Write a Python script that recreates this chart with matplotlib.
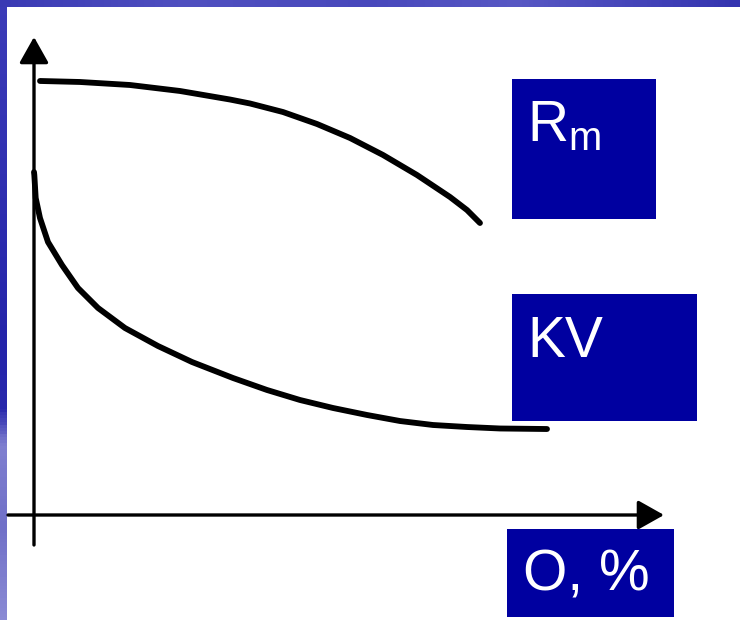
import numpy as np
import matplotlib.pyplot as plt
from matplotlib.colors import LinearSegmentedColormap

# curve data, O (%) on x, property (relative units) on y
rm_x = [0.95, 7.30, 15.24, 23.17, 31.11, 34.29, 39.52, 44.92, 50.16, 55.40, 60.79, 66.03, 68.73, 70.79]
rm_y = [90.61, 90.40, 89.77, 88.52, 86.74, 85.91, 84.13, 81.63, 78.71, 75.16, 70.98, 66.39, 63.67, 60.96]

kv_x = [0.0, 0.05, 0.27, 0.95, 2.22, 4.44, 6.98, 10.16, 14.44, 19.68, 25.08, 31.59,
        36.98, 42.22, 47.46, 52.86, 58.10, 63.33, 68.73, 73.97, 81.43]
kv_y = [71.6, 70.98, 66.18, 62.00, 56.99, 52.19, 47.39, 43.22, 39.04, 35.28, 31.94, 28.60,
        26.10, 24.01, 22.34, 20.88, 19.62, 18.79, 18.37, 18.06, 17.95]

labels = [r'R$_\mathregular{m}$', 'KV', 'O, %']

box_blue = '#0000a0'

fig = plt.figure(figsize=(7.4, 6.2), dpi=100)
ax = fig.add_axes([0, 0, 1, 1])
# axes origin sits at pixel (34, 515); 100 units = 630 px in x, 479 px in y
ax.set_xlim(-34 / 6.3, (740 - 34) / 6.3)
ax.set_ylim((515 - 620) / 4.79, 515 / 4.79)
ax.axis('off')

xmin, xmax = ax.get_xlim()
ymin, ymax = ax.get_ylim()
px = (xmax - xmin) / 740
py = (ymax - ymin) / 620

# slide border (top and left strips)
left_cmap = LinearSegmentedColormap.from_list(
    'left', [(0, '#3c3cb8'), (0.55, '#2424aa'), (0.66, '#2828ac'),
             (0.72, '#8080d0'), (0.85, '#7070c8'), (1, '#8a8ad4')])
grad = np.linspace(0, 1, 200).reshape(-1, 1)
ax.imshow(grad, cmap=left_cmap, aspect='auto',
          extent=(xmin, xmin + 7 * px, ymin, ymax), origin='upper', zorder=1)
top_cmap = LinearSegmentedColormap.from_list(
    'top', [(0, '#3a3ab4'), (0.25, '#5050c0'), (0.5, '#4848bc'),
            (0.7, '#5858c4'), (1, '#3434b0')])
ax.imshow(grad.T, cmap=top_cmap, aspect='auto',
          extent=(xmin, xmax, ymax - 7 * py, ymax), zorder=1)

# axes with arrows
arrow = dict(arrowstyle='-|>,head_length=0.8,head_width=0.45',
             lw=2.4, color='black', mutation_scale=20, shrinkA=0, shrinkB=0)
ax.annotate('', xy=(0, ymax - 37 * py), xytext=(0, -30 * py), arrowprops=arrow)
ax.annotate('', xy=(630 * px, 0), xytext=(-26 * px, 0), arrowprops=arrow)

ax.plot(rm_x, rm_y, color='black', lw=4.2, solid_capstyle='round',
        solid_joinstyle='round', zorder=3)
ax.plot(kv_x, kv_y, color='black', lw=4.2, solid_capstyle='round',
        solid_joinstyle='round', zorder=3)


# labels in blue boxes (pixel rectangles converted to data units)
def label_box(x0, y0, x1, y1, txt, tx, ty):
    ax.add_patch(plt.Rectangle((xmin + x0 * px, ymax - y1 * py),
                               (x1 - x0) * px, (y1 - y0) * py,
                               facecolor=box_blue, edgecolor='none', zorder=2))
    ax.text(xmin + tx * px, ymax - ty * py, txt, color='white',
            fontsize=41, family='Liberation Sans', va='baseline', ha='left',
            zorder=4)


label_box(512, 79, 656, 219, labels[0], 527, 142)
label_box(512, 294, 697, 421, labels[1], 527, 357)
label_box(507, 529, 674, 617, labels[2], 523, 591)

fig.savefig('out.png', dpi=100)
